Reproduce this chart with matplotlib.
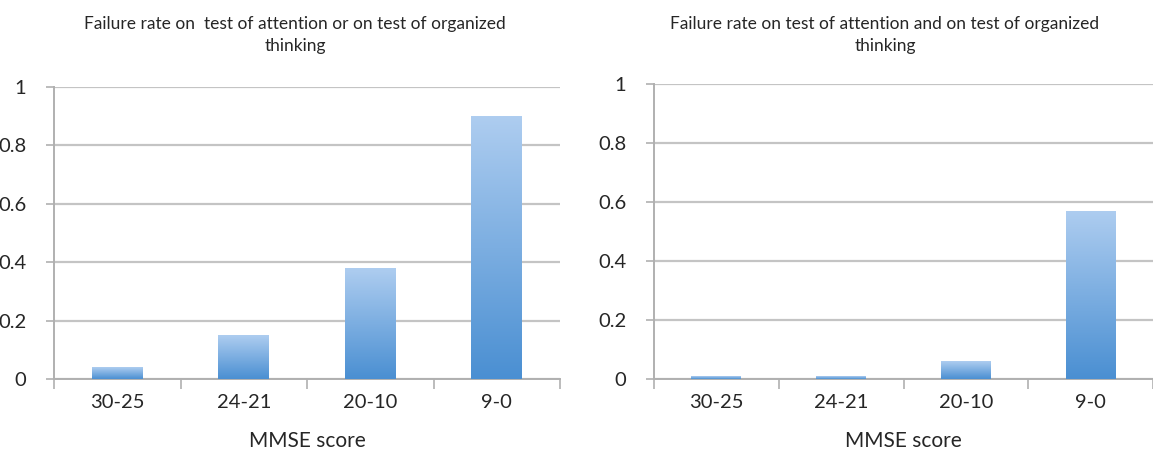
import numpy as np
import matplotlib
matplotlib.use("Agg")
import matplotlib.pyplot as plt
from matplotlib.colors import LinearSegmentedColormap

categories = ["30-25", "24-21", "20-10", "9-0"]
values_or = [0.04, 0.15, 0.38, 0.90]
values_and = [0.01, 0.01, 0.06, 0.57]
yticks = [0, 0.2, 0.4, 0.6, 0.8, 1]
ytick_labels = ["0", "0.2", "0.4", "0.6", "0.8", "1"]
title_or = "Failure rate on  test of attention or on test of organized\nthinking"
title_and = "Failure rate on test of attention and on test of organized\nthinking"
xlabel = "MMSE score"

plt.rcParams['font.family'] = ['Lato', 'DejaVu Sans']

W, H = 1153, 461
fig = plt.figure(figsize=(W / 100, H / 100), dpi=100)

cmap = LinearSegmentedColormap.from_list("grad", ["#4a8fd2", "#aecdf0"])
grid_col = "#c4c4c4"
axis_col = "#b0b0b0"
text_col = "#262626"


def draw(ax, vals, xmax):
    x = np.arange(len(categories))
    bars = ax.bar(x, vals, width=0.4, color="none", edgecolor="none", zorder=3)
    grad = np.linspace(0, 1, 256).reshape(-1, 1)
    for b in bars:
        x0 = b.get_x()
        x1 = x0 + b.get_width()
        h = b.get_height()
        im = ax.imshow(grad, extent=[x0, x1, 0, h], origin="lower", aspect="auto",
                       cmap=cmap, zorder=3, interpolation="bilinear")
        im.set_clip_path(b)
    ax.set_xlim(-0.5, xmax)
    ax.set_ylim(0, 1)
    ax.set_yticks(yticks)
    ax.set_yticklabels(ytick_labels)
    ax.yaxis.grid(True, color=grid_col, linewidth=1.6, zorder=0)
    ax.set_axisbelow(True)
    ax.set_xticks(x)
    ax.set_xticklabels(categories)
    ax.set_xticks(np.arange(-0.5, 3.6, 1.0), minor=True)
    ax.tick_params(axis="x", which="major", length=0, pad=11, labelsize=14.5, labelcolor=text_col)
    ax.tick_params(axis="x", which="minor", length=7, width=1.2, color=axis_col, direction="out")
    ax.tick_params(axis="y", length=6, width=1.2, color=axis_col, pad=14, labelsize=14.5,
                   labelcolor=text_col)
    for s in ["top", "right"]:
        ax.spines[s].set_visible(False)
    ax.spines["left"].set_color(axis_col)
    ax.spines["left"].set_linewidth(1.4)
    ax.spines["bottom"].set_color(axis_col)
    ax.spines["bottom"].set_linewidth(1.4)
    ax.set_xlabel(xlabel, fontsize=15, color=text_col, labelpad=14)


ax1 = fig.add_axes([54 / W, 82 / H, (560 - 54) / W, (379 - 87) / H])
draw(ax1, values_or, 3.5)
ax2 = fig.add_axes([654 / W, 82 / H, (1153 - 654) / W, (379 - 84) / H])
draw(ax2, values_and, -0.5 + (1153 - 654) / 125.5)

fig.text(295 / W, 1 - 35 / H, title_or, ha="center", va="center", fontsize=12.5,
         color=text_col, linespacing=1.5)
fig.text(885 / W, 1 - 35 / H, title_and, ha="center", va="center", fontsize=12.5,
         color=text_col, linespacing=1.5)

fig.savefig("out.png", dpi=100, facecolor="white")
